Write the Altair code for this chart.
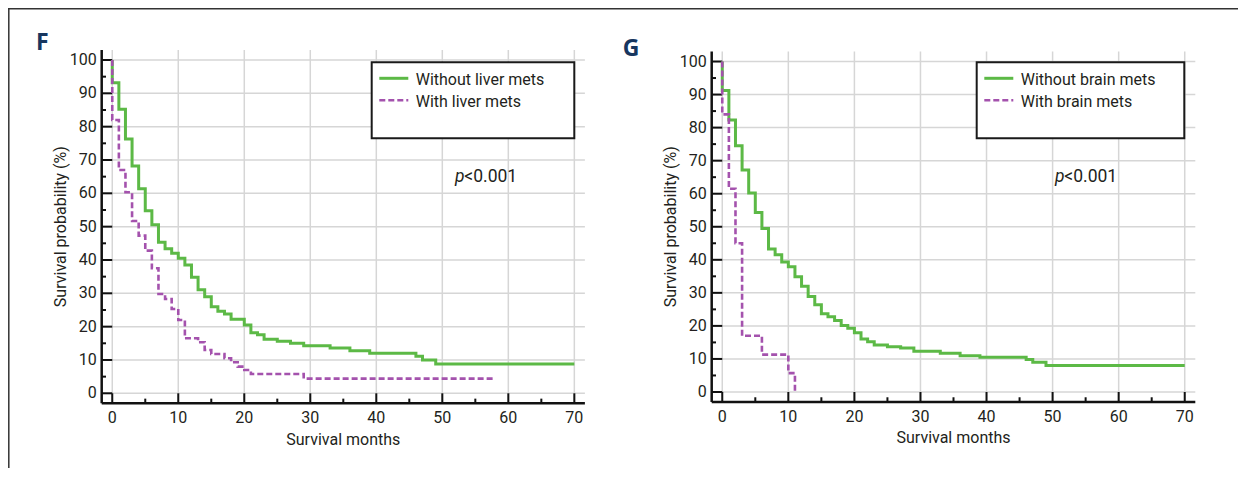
import altair as alt
import pandas as pd

# ---------------- data ----------------
# Panel F: liver metastases
f_without_months = [0, 0, 1, 2, 3, 4, 5, 6, 7, 8, 9, 10, 11, 12, 13, 14, 15, 16, 17, 18, 20, 21, 22, 23, 25, 27, 29, 33, 36, 39, 46, 47, 49, 70]
f_without_surv = [100, 93.2, 85.2, 76.3, 68.2, 61.4, 54.8, 50.6, 45.3, 43.4, 42.0, 40.5, 38.5, 34.8, 31.1, 29.0, 26.0, 24.6, 23.8, 22.2, 20.5, 18.2, 17.6, 16.2, 15.6, 15.0, 14.3, 13.6, 12.8, 12.0, 11.1, 10.0, 8.8, 8.8]
f_with_months = [0, 0, 1, 2, 3, 4, 5, 6, 7, 8, 9, 10, 11, 13, 14, 15, 17, 18, 19, 20, 21, 29, 58]
f_with_surv = [100, 82.0, 67.0, 60.3, 51.7, 47.3, 42.8, 37.5, 29.8, 28.3, 25.3, 22.0, 16.5, 15.3, 13.0, 11.8, 10.5, 9.3, 8.0, 7.0, 5.8, 4.4, 4.4]

# Panel G: brain metastases
g_without_months = [0, 0, 1, 2, 3, 4, 5, 6, 7, 8, 9, 10, 11, 12, 13, 14, 15, 16, 17, 18, 19, 20, 21, 22, 23, 25, 27, 29, 33, 36, 39, 46, 47, 49, 70]
g_without_surv = [100, 91.2, 82.3, 74.5, 67.2, 60.2, 54.3, 49.5, 43.3, 41.5, 39.3, 37.9, 34.9, 32.0, 28.9, 26.4, 23.7, 22.8, 21.6, 20.1, 19.3, 17.9, 16.0, 15.2, 14.2, 13.7, 13.3, 12.3, 11.7, 11.0, 10.5, 9.8, 9.0, 8.0, 8.0]
g_with_months = [0, 0, 1, 2, 3, 6, 10, 11]
g_with_surv = [100, 84.0, 61.5, 45.0, 17.0, 11.3, 5.7, 0]

x_major = [0, 10, 20, 30, 40, 50, 60, 70]
x_minor = [5, 15, 25, 35, 45, 55, 65]
y_major = [0, 10, 20, 30, 40, 50, 60, 70, 80, 90, 100]
y_minor = [5, 15, 25, 35, 45, 55, 65, 75, 85, 95]

labels_f = ["Without liver mets", "With liver mets"]
labels_g = ["Without brain mets", "With brain mets"]
x_title = "Survival months"
y_title = "Survival probability (%)"
p_text = ["p", "<0.001"]

# ---------------- styling ----------------
FONT = "Roboto"
GREEN = "#5cb946"
PURPLE = "#a452ad"
GRID = "#d6d6d6"
INK = "#231f20"
AXIS = "#111111"
NAVY = "#17365f"
W, H = 1230, 460
X_DOM = [-1.6, 71.6]
Y_DOM = [-3, 103]


def series_df(months, surv):
    return pd.DataFrame({"t": months, "s": surv, "i": list(range(len(months)))})


def panel(letter, letter_pos, labels, without, with_, xr, yr, legend_box, p_pos):
    xs = alt.Scale(domain=X_DOM, range=xr, nice=False, zero=False)
    ys = alt.Scale(domain=Y_DOM, range=yr, nice=False, zero=False)

    def X(field):
        return alt.X(field, scale=xs, axis=None)

    def Y(field):
        return alt.Y(field, scale=ys, axis=None)

    one = pd.DataFrame({"a": [0]})
    xmaj = pd.DataFrame({"t": x_major, "lo": -3.0, "hi": 0.0, "g0": Y_DOM[0], "g1": Y_DOM[1]})
    xmin = pd.DataFrame({"t": x_minor, "lo": -3.0, "hi": -1.6})
    ymaj = pd.DataFrame({"v": y_major, "lo": -1.6, "hi": 0.0, "g0": X_DOM[0], "g1": X_DOM[1]})
    ymin = pd.DataFrame({"v": y_minor, "lo": -1.6, "hi": -0.95})
    xline = pd.DataFrame({"x0": [X_DOM[0]], "x1": [X_DOM[1]], "y": [Y_DOM[0]]})
    yline = pd.DataFrame({"y0": [Y_DOM[0]], "y1": [Y_DOM[1]], "x": [X_DOM[0]]})
    xttl = pd.DataFrame({"x": [35.0], "y": [-14.0], "label": [x_title]})
    yttl = pd.DataFrame({"x": [-7.8], "y": [50.0], "label": [y_title]})

    # grid
    grid_v = alt.Chart(xmaj).mark_rule(color=GRID, strokeWidth=1.5).encode(
        x=X("t:Q"), y=Y("g0:Q"), y2="g1:Q")
    grid_h = alt.Chart(ymaj).mark_rule(color=GRID, strokeWidth=1.5).encode(
        y=Y("v:Q"), x=X("g0:Q"), x2="g1:Q")

    # axis lines and inward ticks
    x_line = alt.Chart(xline).mark_rule(color=AXIS, strokeWidth=2.5).encode(
        x=X("x0:Q"), x2="x1:Q", y=Y("y:Q"))
    y_line = alt.Chart(yline).mark_rule(color=AXIS, strokeWidth=2.5).encode(
        y=Y("y0:Q"), y2="y1:Q", x=X("x:Q"))
    xt_major = alt.Chart(xmaj).mark_rule(color=AXIS, strokeWidth=2).encode(
        x=X("t:Q"), y=Y("lo:Q"), y2="hi:Q")
    xt_minor = alt.Chart(xmin).mark_rule(color=AXIS, strokeWidth=2).encode(
        x=X("t:Q"), y=Y("lo:Q"), y2="hi:Q")
    yt_major = alt.Chart(ymaj).mark_rule(color=AXIS, strokeWidth=2).encode(
        y=Y("v:Q"), x=X("lo:Q"), x2="hi:Q")
    yt_minor = alt.Chart(ymin).mark_rule(color=AXIS, strokeWidth=2).encode(
        y=Y("v:Q"), x=X("lo:Q"), x2="hi:Q")

    # tick labels and titles
    x_labels = alt.Chart(xmaj).mark_text(font=FONT, fontSize=16, color=INK, align="center",
                                         baseline="middle", dy=15).encode(
        x=X("t:Q"), y=Y("lo:Q"), text=alt.Text("t:Q", format="d"))
    y_labels = alt.Chart(ymaj).mark_text(font=FONT, fontSize=16, color=INK, align="right",
                                         baseline="middle", dx=-5).encode(
        y=Y("v:Q"), x=X("lo:Q"), text=alt.Text("v:Q", format="d"))
    x_ttl = alt.Chart(xttl).mark_text(font=FONT, fontSize=16, color=INK, align="center",
                                      baseline="middle").encode(x=X("x:Q"), y=Y("y:Q"), text="label:N")
    y_ttl = alt.Chart(yttl).mark_text(font=FONT, fontSize=16, color=INK, align="center",
                                      baseline="middle", angle=270).encode(x=X("x:Q"), y=Y("y:Q"), text="label:N")

    # survival curves
    line_without = alt.Chart(series_df(*without)).mark_line(
        interpolate="step-after", color=GREEN, strokeWidth=3).encode(
        x=X("t:Q"), y=Y("s:Q"), order="i:Q")
    line_with = alt.Chart(series_df(*with_)).mark_line(
        interpolate="step-after", color=PURPLE, strokeWidth=2.6, strokeDash=[6, 3]).encode(
        x=X("t:Q"), y=Y("s:Q"), order="i:Q")

    # legend box
    bx0, bx1, by0, by1 = legend_box
    box = alt.Chart(one).mark_rect(fill="white", stroke="#1a1a1a", strokeWidth=2).encode(
        x=alt.value(bx0), x2=alt.value(bx1), y=alt.value(by0), y2=alt.value(by1))
    sx0, sx1 = bx0 + 7.6, bx0 + 36.6
    tx = bx0 + 44
    sample1 = alt.Chart(one).mark_rule(color=GREEN, strokeWidth=3).encode(
        x=alt.value(sx0), x2=alt.value(sx1), y=alt.value(by0 + 16))
    sample2 = alt.Chart(one).mark_rule(color=PURPLE, strokeWidth=2.6, strokeDash=[6, 3]).encode(
        x=alt.value(sx0), x2=alt.value(sx1), y=alt.value(by0 + 38))
    lab1 = alt.Chart(one).mark_text(text=labels[0], font=FONT, fontSize=16, color=INK, align="left",
                                    baseline="alphabetic").encode(x=alt.value(tx), y=alt.value(by0 + 23))
    lab2 = alt.Chart(one).mark_text(text=labels[1], font=FONT, fontSize=16, color=INK, align="left",
                                    baseline="alphabetic").encode(x=alt.value(tx), y=alt.value(by0 + 44.5))

    px, py = p_pos
    p1 = alt.Chart(one).mark_text(text=p_text[0], font=FONT, fontSize=17.5, fontStyle="italic", color=INK,
                                  align="left", baseline="alphabetic").encode(x=alt.value(px), y=alt.value(py))
    p2 = alt.Chart(one).mark_text(text=p_text[1], font=FONT, fontSize=17.5, color=INK,
                                  align="left", baseline="alphabetic").encode(x=alt.value(px + 9.3), y=alt.value(py))

    lx, ly = letter_pos
    letter_mark = alt.Chart(one).mark_text(text=letter, font="Open Sans", fontSize=23, fontWeight="bold",
                                           color=NAVY, align="left", baseline="alphabetic").encode(
        x=alt.value(lx), y=alt.value(ly))

    return alt.layer(grid_v, grid_h, xt_major, xt_minor, yt_major, yt_minor, x_line, y_line,
                     x_labels, y_labels, x_ttl, y_ttl, line_without, line_with,
                     box, sample1, sample2, lab1, lab2, p1, p2, letter_mark)


panel_f = panel("F", (28, 42), labels_f, (f_without_months, f_without_surv), (f_with_months, f_with_surv),
                [93.7, 576.9], [395.3, 42.0], (363.7, 566.3, 54.3, 130.3), (447, 173.7))
panel_g = panel("G", (614.7, 48), labels_g, (g_without_months, g_without_surv), (g_with_months, g_with_surv),
                [703.7, 1187.3], [393.9, 43.6], (968.7, 1176.3, 54.3, 130.3), (1047, 173.7))

frame_df = pd.DataFrame({"a": [0]})
frame_top = alt.Chart(frame_df).mark_rule(color="#333333", strokeWidth=1.5).encode(
    x=alt.value(0), x2=alt.value(W), y=alt.value(0.8))
frame_left = alt.Chart(frame_df).mark_rule(color="#333333", strokeWidth=1.5).encode(
    x=alt.value(0.8), y=alt.value(0), y2=alt.value(H))

chart = alt.layer(panel_f, panel_g, frame_top, frame_left).resolve_scale(
    x="independent", y="independent").properties(
    width=W, height=H, autosize=alt.AutoSizeParams(type="none"), padding=0, background="white"
).configure_view(stroke=None)

chart.save("out.html", embed_options={"renderer": "svg", "actions": False})
